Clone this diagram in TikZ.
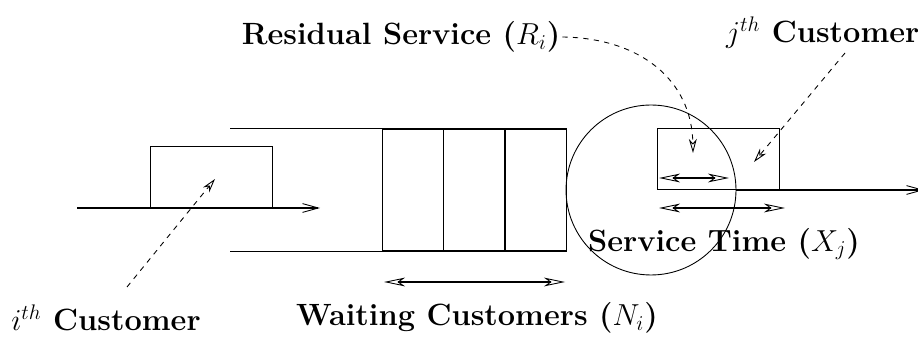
\documentclass[tikz,border=0pt]{standalone}
\usepackage{amsmath}
\usetikzlibrary{arrows.meta,positioning}

\tikzset{
  cust/.style={draw, line width=0.5pt, inner sep=0pt, outer sep=0pt,
               minimum width=2.44cm, minimum height=1.23cm},
  slot/.style={draw, line width=0.8pt, inner sep=0pt, outer sep=0pt,
               minimum width=1.227cm, minimum height=2.44cm},
  flow/.style={line width=1.1pt, -{Straight Barb[length=9pt,width=5pt,line width=0.5pt]}},
  span/.style={line width=0.9pt, {Stealth[open,length=12pt,width=5pt,inset=3.5pt,line width=0.5pt]}-{Stealth[open,length=12pt,width=5pt,inset=3.5pt,line width=0.5pt]}},
  pointer/.style={dashed, line width=0.5pt, -{Stealth[open,length=8pt,width=4.5pt,inset=2.5pt]}},
  lbl/.style={font=\fontsize{17.5}{21}\selectfont\bfseries, inner sep=1pt}
}

\begin{document}
\begin{tikzpicture}[x=0.02cm,y=-0.02cm]
  \useasboundingbox (0,0) rectangle (918,340);

  % arriving customer
  \coordinate (in_l) at (77,208);
  \coordinate (in_r) at (320,208);
  \draw[flow] (in_l) -- (in_r);
  \node[cust] (cust_i) at (211.5,177.5) {};

  % queue
  \node[slot] (slot_1) at (413,190) {};
  \node[slot] (slot_2) [right=0pt of slot_1] {};
  \node[slot] (slot_3) [right=0pt of slot_2] {};
  \coordinate (rail_t) at (230,128);
  \coordinate (rail_b) at (230,251);
  \draw[line width=0.5pt] (rail_t) -- (rail_t -| slot_1.west);
  \draw[line width=0.5pt] (rail_b) -- (rail_b -| slot_1.west);

  \coordinate (wait_l) at (384,282);
  \coordinate (wait_r) at (565,282);
  \draw[span] (wait_l) -- (wait_r);

  % server
  \node[draw, circle, line width=0.5pt, minimum size=3.4cm, inner sep=0pt] (server) at (651,190) {};
  \node[cust] (cust_j) at (718,159) {};
  \coordinate (out_r) at (924,190);
  \draw[flow] (server.east) -- (out_r);

  \coordinate (res_l) at (659,178);
  \coordinate (res_r) at (729,178);
  \draw[span] (res_l) -- (res_r);
  \coordinate (serv_l) at (659,208);
  \coordinate (serv_r) at (785,208);
  \draw[span] (serv_l) -- (serv_r);

  % labels
  \node[lbl] (wait_lbl) at (477,318) {Waiting Customers ($N_i$)};
  \node[lbl] (serv_lbl) at (724,244) {Service Time ($X_j$)};
  \node[lbl] (ci_lbl) at (106,318) {$i^{th}$ Customer};
  \node[lbl] (res_lbl) at (401,37) {Residual Service ($R_i$)};
  \node[lbl, anchor=west] (cj_lbl) at (724,33) {$j^{th}$ Customer};

  % pointers
  \coordinate (ci_from) at (127,287);
  \coordinate (ci_to) at (215,179);
  \draw[pointer] (ci_from) -- (ci_to);
  \coordinate (cj_from) at (845,53);
  \coordinate (cj_to) at (754,162);
  \draw[pointer] (cj_from) -- (cj_to);
  \coordinate (res_to) at (693,153);
  \draw[pointer] (res_lbl.east) .. controls (640,38) and (692,80) .. (res_to);
\end{tikzpicture}
\end{document}
